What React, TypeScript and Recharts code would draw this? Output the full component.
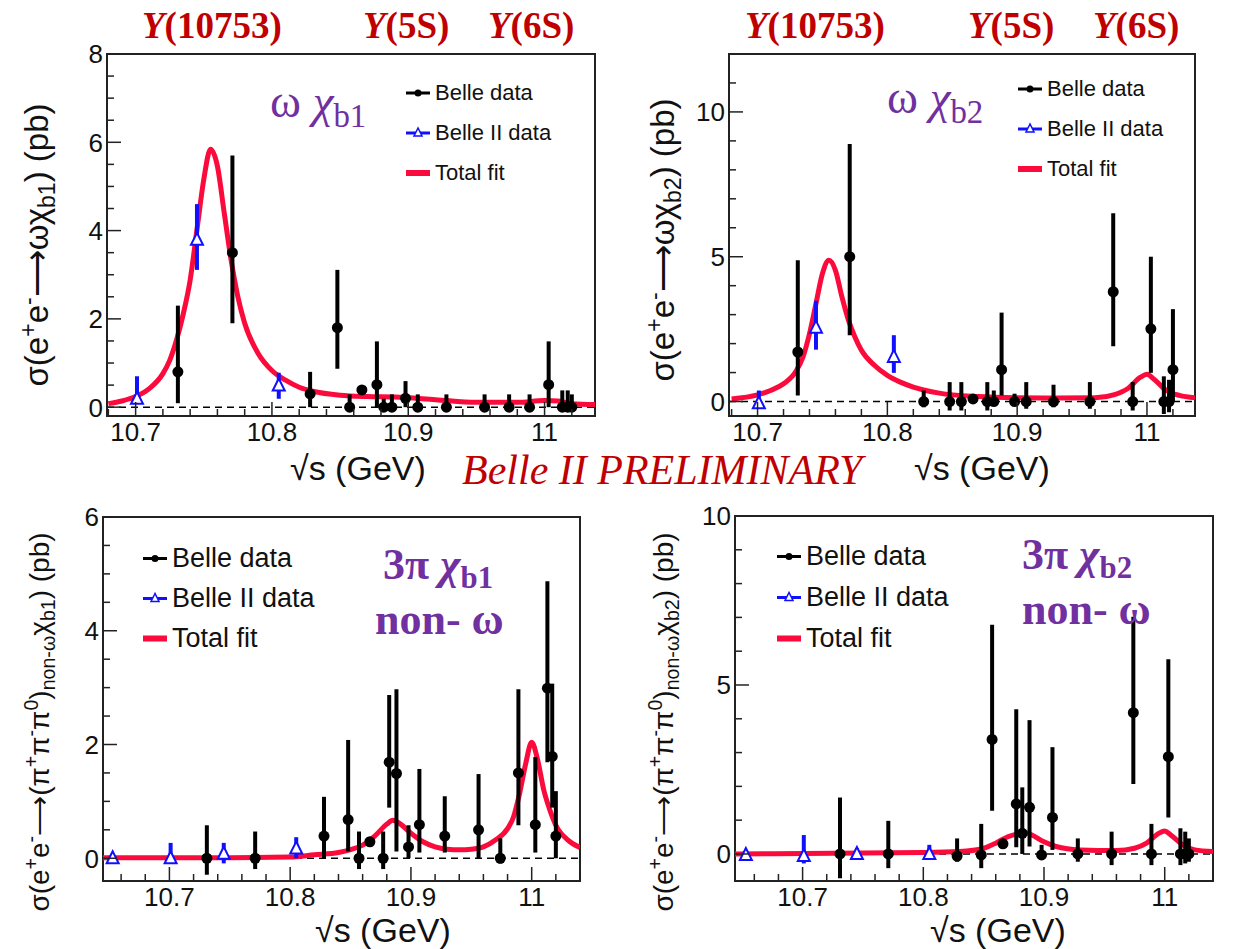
import React from "react";
import {
  ComposedChart,
  Line,
  Scatter,
  ErrorBar,
  XAxis,
  YAxis,
  ReferenceLine,
  ReferenceArea,
} from "recharts";

const SANS = '"Liberation Sans", Arial, Helvetica, sans-serif';
const SERIF = '"Liberation Serif", "DejaVu Serif", serif';
const RED = "#c00000";
const PURPLE = "#7030a0";
const FIT = "#fb0a3c";
const BLUE = "#1010ff";

// scan energies, GeV
const belleEnergy = [
  10.731, 10.771, 10.828, 10.848, 10.857, 10.866, 10.877, 10.882, 10.888, 10.898,
  10.907, 10.928, 10.956, 10.974, 10.989, 11.003, 11.013, 11.017, 11.02,
];
const belle2Energy = [10.653, 10.701, 10.745, 10.805];

// [sigma, lower, upper] in pb
const wb1Belle = [
  [0.8, 0.09, 2.3], [3.5, 1.9, 5.7], [0.3, 0, 0.8], [1.8, 0.87, 3.11], [0, -0.08, 0.29],
  [0.39, 0.39, 0.39], [0.51, 0, 1.49], [0, -0.05, 0.19], [0, -0.05, 0.29], [0.2, 0, 0.59],
  [0, -0.05, 0.29], [0, -0.05, 0.29], [0, -0.05, 0.29], [0, -0.05, 0.29], [0, -0.05, 0.29],
  [0.51, 0, 1.49], [0, -0.05, 0.38], [0, -0.05, 0.38], [0, -0.05, 0.29],
];
const wb1Belle2 = [[0.19, 0.08, 0.7], [3.79, 3.11, 4.6], [0.49, 0.19, 0.78]];
const wb1Fit = [
  [10.68, 0.08], [10.69, 0.14], [10.7, 0.24], [10.71, 0.42], [10.72, 0.76], [10.725, 1.06],
  [10.73, 1.52], [10.735, 2.12], [10.74, 2.88], [10.745, 4.02], [10.75, 5.16], [10.755, 5.84],
  [10.76, 5.46], [10.765, 4.4], [10.77, 3.34], [10.775, 2.5], [10.78, 1.9], [10.79, 1.21],
  [10.8, 0.83], [10.81, 0.61], [10.82, 0.45], [10.83, 0.36], [10.85, 0.27], [10.87, 0.24],
  [10.89, 0.23], [10.92, 0.17], [10.95, 0.11], [10.98, 0.11], [11.0, 0.15], [11.01, 0.14],
  [11.02, 0.08], [11.037, 0.06],
];

const wb2Belle = [
  [1.71, 0.21, 4.88], [5.0, 2.29, 8.89], [0, -0.2, 0.38], [0, -0.31, 0.67], [0, -0.31, 0.67],
  [0.09, 0.09, 0.09], [0, -0.31, 0.67], [0, -0.14, 0.38], [1.1, 0.21, 3.07], [0, -0.14, 0.27],
  [0, -0.25, 0.67], [0, -0.2, 0.58], [0, -0.25, 0.67], [3.79, 1.91, 6.5], [0, -0.31, 0.67],
  [2.51, 0.99, 5.0], [0, -0.43, 0.87], [0, -0.37, 0.75], [1.1, 0, 3.19],
];
const wb2Belle2 = [[-0.06, -0.2, 0.38], [2.55, 1.79, 3.48], [1.54, 0.99, 2.29]];
const wb2Fit = [
  [10.68, 0.09], [10.7, 0.23], [10.71, 0.38], [10.72, 0.61], [10.73, 1.07], [10.735, 1.54],
  [10.74, 2.34], [10.745, 3.38], [10.75, 4.42], [10.755, 4.88], [10.76, 4.53], [10.765, 3.61],
  [10.77, 2.81], [10.775, 2.23], [10.78, 1.77], [10.79, 1.25], [10.8, 0.9], [10.81, 0.67],
  [10.82, 0.5], [10.84, 0.29], [10.87, 0.17], [10.9, 0.13], [10.93, 0.12], [10.96, 0.13],
  [10.975, 0.24], [10.985, 0.44], [10.995, 0.84], [11.0, 0.94], [11.005, 0.79], [11.015, 0.38],
  [11.025, 0.21], [11.037, 0.13],
];

const pb1Belle = [
  [0, -0.29, 0.58], [0, -0.19, 0.47], [0.39, 0, 1.08], [0.68, 0.12, 2.08], [0, -0.19, 0.47],
  [0.29, 0.29, 0.29], [0, -0.19, 0.47], [1.69, 0.89, 2.87], [1.49, 0.12, 2.97], [0.2, 0, 0.58],
  [0.59, 0.1, 1.57], [0.39, 0.1, 1.09], [0.5, 0, 1.48], [0, -0.09, 0.35], [1.5, 0.58, 2.97],
  [0.59, 0.1, 1.78], [2.99, 1.69, 4.87], [1.79, 0.89, 3.07], [0.39, 0, 1.18],
];
const pb1Belle2 = [[0, -0.09, 0.08], [0, -0.09, 0.27], [0.08, -0.09, 0.27], [0.17, 0, 0.37]];
const pb1Fit = [
  [10.645, 0.01], [10.7, 0.01], [10.75, 0.01], [10.8, 0.02], [10.82, 0.06], [10.84, 0.1],
  [10.85, 0.15], [10.86, 0.23], [10.87, 0.39], [10.88, 0.6], [10.885, 0.67], [10.89, 0.62],
  [10.9, 0.44], [10.91, 0.29], [10.92, 0.2], [10.93, 0.16], [10.94, 0.15], [10.95, 0.16],
  [10.96, 0.2], [10.97, 0.32], [10.98, 0.52], [10.985, 0.73], [10.99, 1.14], [10.995, 1.66],
  [11.0, 2.04], [11.005, 1.72], [11.01, 1.2], [11.015, 0.85], [11.02, 0.58], [11.03, 0.32],
  [11.04, 0.19],
];

const pb2Belle = [
  [0, -0.72, 1.67], [0, -0.42, 0.98], [-0.06, -0.23, 0.46], [-0.03, -0.42, 0.89], [3.39, 1.28, 6.78],
  [0.3, 0.3, 0.3], [1.48, 0.2, 4.28], [0.61, 0, 1.97], [1.38, 0.22, 3.96], [-0.03, -0.13, 0.27],
  [1.08, 0.12, 3.16], [0, -0.23, 0.46], [0, -0.33, 0.66], [4.18, 2.07, 7.02], [0, -0.33, 0.89],
  [2.88, 1.08, 5.76], [0, -0.33, 0.76], [0, -0.28, 0.66], [0, -0.23, 0.46],
];
const pb2Belle2 = [[-0.03, -0.1, 0.05], [-0.06, -0.28, 0.56], [0, -0.13, 0.17], [0, -0.13, 0.27]];
const pb2Fit = [
  [10.644, 0.0], [10.8, 0.04], [10.83, 0.07], [10.85, 0.17], [10.86, 0.32], [10.87, 0.51],
  [10.88, 0.61], [10.885, 0.63], [10.89, 0.56], [10.9, 0.36], [10.91, 0.22], [10.93, 0.12],
  [10.96, 0.1], [10.975, 0.17], [10.985, 0.32], [10.995, 0.61], [11.0, 0.68], [11.005, 0.56],
  [11.015, 0.27], [11.025, 0.12], [11.04, 0.07],
];

const xMajor = [10.7, 10.8, 10.9, 11];
const stepTicks = (lo: number, hi: number, step: number) => {
  const out: number[] = [];
  for (let k = Math.ceil(lo / step - 1e-9); k <= Math.floor(hi / step + 1e-9); k++) out.push(+(k * step).toFixed(3));
  return out;
};

type Pt = { x: number; y: number; err: [number, number] };
const toPoints = (xs: number[], rows: number[][]): Pt[] =>
  rows.map((r, i) => ({ x: xs[i], y: r[0], err: [r[0] - r[1], r[2] - r[0]] }));
const toCurve = (rows: number[][]) => rows.map(([x, y]) => ({ x, y }));

const isMajor = (v: number, majors: number[]) => majors.some((m) => Math.abs(m - v) < 1e-6);

function Dot(props: any) {
  const { cx, cy } = props;
  if (cx == null || cy == null) return null;
  return <circle cx={cx} cy={cy} r={5.5} fill="#000" />;
}

function Tri(props: any) {
  const { cx, cy } = props;
  if (cx == null || cy == null) return null;
  return (
    <polygon
      points={`${cx},${cy - 7} ${cx - 6},${cy + 5} ${cx + 6},${cy + 5}`}
      fill="#fff"
      stroke={BLUE}
      strokeWidth={2}
    />
  );
}

type PanelProps = {
  left: number;
  top: number;
  width: number;
  height: number;
  // frame edges inside the chart box
  frame: { top: number; right: number; bottom: number; left: number };
  xDomain: [number, number];
  yDomain: [number, number];
  yMajor: number[];
  yStep: number;
  tickFont: number;
  belle: Pt[];
  belle2: Pt[];
  fit: { x: number; y: number }[];
};

function Panel(p: PanelProps) {
  const f = p.frame;
  // axes take 1px each, so shift the margins to keep the frame where it belongs
  const margin = { top: f.top, right: p.width - f.right, bottom: p.height - f.bottom - 1, left: f.left - 1 };
  const yTicks = stepTicks(p.yDomain[0], p.yDomain[1], p.yStep);
  const xTicks = stepTicks(p.xDomain[0], p.xDomain[1], 0.02);

  const yTick = (t: any) => {
    const v = t.payload.value;
    const major = isMajor(v, p.yMajor);
    return (
      <g>
        <line x1={f.left} x2={f.left + (major ? 14 : 7)} y1={t.y} y2={t.y} stroke="#222" strokeWidth={1.5} />
        {major && (
          <text x={f.left - 4} y={t.y} dy="0.36em" textAnchor="end" fontFamily={SANS} fontSize={p.tickFont} fill="#111">
            {v}
          </text>
        )}
      </g>
    );
  };

  const xTick = (t: any) => {
    const v = t.payload.value;
    const major = isMajor(v, xMajor);
    return (
      <g>
        <line x1={t.x} x2={t.x} y1={f.bottom} y2={f.bottom - (major ? 14 : 7)} stroke="#222" strokeWidth={1.5} />
        {major && (
          <text x={t.x} y={f.bottom + p.tickFont - 1} textAnchor="middle" fontFamily={SANS} fontSize={p.tickFont} fill="#111">
            {v}
          </text>
        )}
      </g>
    );
  };

  return (
    <div style={{ position: "absolute", left: p.left, top: p.top }}>
      <ComposedChart width={p.width} height={p.height} data={p.fit} margin={margin}>
        <XAxis
          dataKey="x"
          type="number"
          domain={p.xDomain}
          allowDataOverflow
          ticks={xTicks}
          interval={0}
          height={1}
          tickSize={0}
          axisLine={false}
          tick={xTick}
        />
        <YAxis
          type="number"
          domain={p.yDomain}
          allowDataOverflow
          ticks={yTicks}
          interval={0}
          width={1}
          tickSize={0}
          axisLine={false}
          tick={yTick}
        />
        <ReferenceArea
          x1={p.xDomain[0]}
          x2={p.xDomain[1]}
          y1={p.yDomain[0]}
          y2={p.yDomain[1]}
          fill="none"
          fillOpacity={0}
          stroke="#222"
          strokeWidth={2}
          ifOverflow="visible"
        />
        <ReferenceLine y={0} stroke="#000" strokeWidth={1.5} strokeDasharray="7 5" />
        <Line
          dataKey="y"
          type="monotone"
          stroke={FIT}
          strokeWidth={5}
          dot={false}
          activeDot={false}
          isAnimationActive={false}
        />
        <Scatter data={p.belle} dataKey="y" shape={<Dot />} isAnimationActive={false}>
          <ErrorBar dataKey="err" direction="y" width={0} stroke="#000" strokeWidth={4} />
        </Scatter>
        <Scatter data={p.belle2} dataKey="y" shape={<Tri />} isAnimationActive={false}>
          <ErrorBar dataKey="err" direction="y" width={0} stroke={BLUE} strokeWidth={4} />
        </Scatter>
      </ComposedChart>
    </div>
  );
}

function Key({ left, top, gap, size }: { left: number; top: number; gap: number; size: number }) {
  const rows = [
    { label: "Belle data", kind: "belle" },
    { label: "Belle II data", kind: "belle2" },
    { label: "Total fit", kind: "fit" },
  ];
  return (
    <div style={{ position: "absolute", left, top, fontFamily: SANS, fontSize: size, color: "#111" }}>
      {rows.map((r, i) => (
        <div
          key={r.label}
          style={{ position: "absolute", left: 0, top: i * gap, display: "flex", alignItems: "center", whiteSpace: "nowrap", transform: "translateY(-50%)" }}
        >
          <svg width={24} height={16} style={{ marginRight: 5 }}>
            {r.kind === "belle" && (
              <>
                <line x1={0} x2={24} y1={8} y2={8} stroke="#000" strokeWidth={3} />
                <circle cx={12} cy={8} r={3.5} fill="#000" />
              </>
            )}
            {r.kind === "belle2" && (
              <>
                <line x1={0} x2={24} y1={8} y2={8} stroke={BLUE} strokeWidth={3} />
                <polygon points="12,3 8,11 16,11" fill="#fff" stroke={BLUE} strokeWidth={1.5} />
              </>
            )}
            {r.kind === "fit" && <line x1={0} x2={24} y1={8} y2={8} stroke={FIT} strokeWidth={6} />}
          </svg>
          <span>{r.label}</span>
        </div>
      ))}
    </div>
  );
}

function Txt({ x, y, size, color, font, weight, italic, lh, children }: any) {
  return (
    <div
      style={{
        position: "absolute",
        left: x,
        top: y,
        fontSize: size,
        color,
        fontFamily: font,
        fontWeight: weight || "normal",
        fontStyle: italic ? "italic" : "normal",
        whiteSpace: "nowrap",
        lineHeight: lh || 1,
      }}
    >
      {children}
    </div>
  );
}

function YTitle({ cx, cy, size, children }: any) {
  return (
    <div
      style={{
        position: "absolute",
        left: cx,
        top: cy,
        transform: "translate(-50%, -50%) rotate(-90deg)",
        fontFamily: SANS,
        fontSize: size,
        color: "#111",
        whiteSpace: "nowrap",
        lineHeight: 1,
      }}
    >
      {children}
    </div>
  );
}

const sup = (s: string) => <sup style={{ fontSize: "70%", verticalAlign: "0.55em" }}>{s}</sup>;
const sub = (s: string) => <sub style={{ fontSize: "70%", verticalAlign: "-0.3em" }}>{s}</sub>;

const Upsilon = ({ x, state }: { x: number; state: string }) => (
  <Txt x={x} y={7} size={37} color={RED} font={SERIF} weight="bold">
    <i>Υ</i>({state})
  </Txt>
);

const XTitle = ({ x, y }: { x: number; y: number }) => (
  <Txt x={x} y={y} size={34} color="#111" font={SANS} lh={0.8}>
    √s (GeV)
  </Txt>
);

export default function App() {
  return (
    <div style={{ position: "absolute", left: 0, top: 0, width: 1238, height: 949, background: "#fff", overflow: "hidden" }}>
      <Panel
        left={0}
        top={0}
        width={619}
        height={480}
        frame={{ top: 54, right: 595, bottom: 416, left: 107 }}
        xDomain={[10.679, 11.037]}
        yDomain={[-0.2, 8]}
        yMajor={[0, 2, 4, 6, 8]}
        yStep={0.5}
        tickFont={26}
        belle={toPoints(belleEnergy, wb1Belle)}
        belle2={toPoints(belle2Energy.slice(1), wb1Belle2)}
        fit={toCurve(wb1Fit)}
      />
      <Panel
        left={619}
        top={0}
        width={619}
        height={480}
        frame={{ top: 54, right: 576, bottom: 416, left: 110 }}
        xDomain={[10.678, 11.037]}
        yDomain={[-0.5, 12]}
        yMajor={[0, 5, 10]}
        yStep={1}
        tickFont={26}
        belle={toPoints(belleEnergy, wb2Belle)}
        belle2={toPoints(belle2Energy.slice(1), wb2Belle2)}
        fit={toCurve(wb2Fit)}
      />
      <Panel
        left={0}
        top={480}
        width={619}
        height={469}
        frame={{ top: 37, right: 580, bottom: 401, left: 103 }}
        xDomain={[10.645, 11.04]}
        yDomain={[-0.4, 6]}
        yMajor={[0, 2, 4, 6]}
        yStep={0.5}
        tickFont={26}
        belle={toPoints(belleEnergy, pb1Belle)}
        belle2={toPoints(belle2Energy, pb1Belle2)}
        fit={toCurve(pb1Fit)}
      />
      <Panel
        left={619}
        top={480}
        width={619}
        height={469}
        frame={{ top: 36, right: 594, bottom: 401, left: 116 }}
        xDomain={[10.644, 11.04]}
        yDomain={[-0.8, 10]}
        yMajor={[0, 5, 10]}
        yStep={1}
        tickFont={26}
        belle={toPoints(belleEnergy, pb2Belle)}
        belle2={toPoints(belle2Energy, pb2Belle2)}
        fit={toCurve(pb2Fit)}
      />

      <Upsilon x={142} state="10753" />
      <Upsilon x={363} state="5S" />
      <Upsilon x={488} state="6S" />
      <Upsilon x={745} state="10753" />
      <Upsilon x={968} state="5S" />
      <Upsilon x={1093} state="6S" />

      <Txt x={462} y={455} size={42} color={RED} font={SERIF} italic lh={0.75}>
        Belle II PRELIMINARY
      </Txt>

      <Txt x={270} y={78} size={47} color={PURPLE} font={SERIF}>
        ω <i>χ</i>{sub("b1")}
      </Txt>
      <Txt x={887} y={74} size={47} color={PURPLE} font={SERIF}>
        ω <i>χ</i>{sub("b2")}
      </Txt>
      <Txt x={383} y={545} size={44} color={PURPLE} font={SERIF} weight="bold" lh={0.9}>
        3π <i>χ</i>{sub("b1")}
      </Txt>
      <Txt x={375} y={600} size={44} color={PURPLE} font={SERIF} weight="bold" lh={0.9}>
        non- ω
      </Txt>
      <Txt x={1022} y={535} size={44} color={PURPLE} font={SERIF} weight="bold" lh={0.9}>
        3π <i>χ</i>{sub("b2")}
      </Txt>
      <Txt x={1022} y={590} size={44} color={PURPLE} font={SERIF} weight="bold" lh={0.9}>
        non- ω
      </Txt>

      <Key left={406} top={93} gap={40} size={22} />
      <Key left={1018} top={89} gap={40} size={22} />
      <Key left={143} top={558} gap={40} size={27} />
      <Key left={777} top={556} gap={41} size={27} />

      <XTitle x={290} y={455} />
      <XTitle x={914} y={455} />
      <XTitle x={315} y={917} />
      <XTitle x={930} y={917} />

      <YTitle cx={38} cy={245} size={33}>
        σ(e{sup("+")}e{sup("-")}⟶ωχ{sub("b1")}) (pb)
      </YTitle>
      <YTitle cx={664} cy={240} size={33}>
        σ(e{sup("+")}e{sup("-")}⟶ωχ{sub("b2")}) (pb)
      </YTitle>
      <YTitle cx={40} cy={722} size={28}>
        σ(e{sup("+")}e{sup("-")}⟶(π{sup("+")}π{sup("-")}π{sup("0")}){sub("non-ω")}χ{sub("b1")}) (pb)
      </YTitle>
      <YTitle cx={664} cy={722} size={28}>
        σ(e{sup("+")}e{sup("-")}⟶(π{sup("+")}π{sup("-")}π{sup("0")}){sub("non-ω")}χ{sub("b2")}) (pb)
      </YTitle>
    </div>
  );
}
